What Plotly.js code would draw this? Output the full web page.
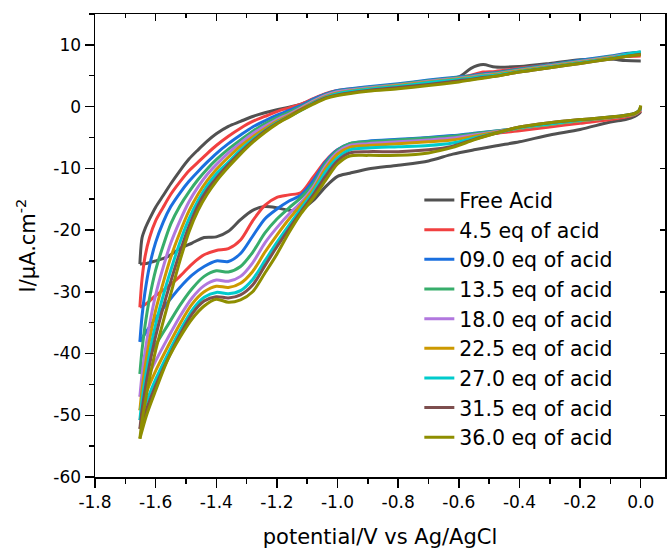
<!DOCTYPE html>
<html>
<head>
<meta charset="utf-8">
<script src="https://cdn.plot.ly/plotly-3.0.1.min.js"></script>
<style>html,body{margin:0;padding:0;background:#fff;}#chart{width:667px;height:549px;}</style>
</head>
<body>
<div id="chart"></div>
<script>
// Potential grids (V vs Ag/AgCl)
const potentialLower = [0.00, -0.005, -0.02, -0.05, -0.10, -0.20, -0.30, -0.40, -0.47, -0.55, -0.62, -0.70, -0.80, -0.90, -0.96, -1.00, -1.04, -1.08, -1.12, -1.16, -1.20, -1.24, -1.28, -1.32, -1.36, -1.40, -1.44, -1.48, -1.52, -1.56, -1.60, -1.63, -1.652];
const potentialUpper = [-1.652, -1.645, -1.635, -1.62, -1.60, -1.575, -1.55, -1.52, -1.49, -1.46, -1.43, -1.40, -1.36, -1.32, -1.28, -1.24, -1.20, -1.16, -1.12, -1.08, -1.04, -1.00, -0.90, -0.80, -0.70, -0.60, -0.56, -0.52, -0.48, -0.40, -0.30, -0.20, -0.10, -0.05, 0.00];

// Series names
const seriesNames = ["Free Acid", "4.5 eq of acid", "09.0 eq of acid", "13.5 eq of acid", "18.0 eq of acid", "22.5 eq of acid", "27.0 eq of acid", "31.5 eq of acid", "36.0 eq of acid"];

// Cathodic (forward) branch currents, I / uA cm^-2
const freeLower   = [-0.8, -1.1, -1.6, -2.1, -2.5, -3.7, -4.6, -5.7, -6.3, -7.0, -7.7, -8.8, -9.5, -10.1, -10.8, -11.3, -13.0, -15.2, -16.6, -16.8, -16.4, -16.2, -16.8, -18.3, -20.2, -21.1, -21.2, -22.1, -23.0, -24.3, -25.0, -25.4, -25.5];
const eq045Lower  = [-0.6, -0.9, -1.3, -1.7, -2.1, -2.7, -3.3, -3.9, -4.3, -4.5, -4.8, -5.1, -5.4, -5.8, -6.2, -7.0, -8.8, -11.4, -13.9, -14.3, -14.7, -16.0, -18.5, -21.6, -23.0, -23.3, -24.0, -25.5, -27.5, -29.2, -30.6, -31.9, -32.5];
const eq090Lower  = [-0.4, -0.7, -1.2, -1.5, -1.8, -2.3, -2.9, -3.5, -3.9, -4.3, -4.7, -5.0, -5.3, -5.6, -6.0, -7.0, -9.0, -12.0, -14.3, -15.3, -16.6, -18.2, -21.0, -23.8, -25.1, -25.0, -25.9, -27.3, -29.3, -31.7, -34.3, -36.4, -38.1];
const eq135Lower  = [-0.3, -0.7, -1.2, -1.5, -1.8, -2.3, -2.9, -3.5, -3.9, -4.4, -4.8, -5.1, -5.4, -5.7, -6.0, -7.1, -9.3, -12.5, -14.7, -16.4, -18.2, -20.5, -23.6, -25.9, -26.8, -26.6, -27.5, -29.5, -32.2, -35.4, -38.6, -41.3, -43.3];
const eq180Lower  = [-0.2, -0.7, -1.2, -1.5, -1.8, -2.3, -2.9, -3.5, -4.0, -4.6, -5.1, -5.4, -5.7, -6.0, -6.3, -7.4, -9.7, -13.0, -15.5, -17.4, -19.6, -22.1, -25.3, -27.5, -28.3, -28.1, -29.0, -31.0, -34.0, -37.5, -41.2, -44.3, -47.0];
const eq225Lower  = [-0.1, -0.7, -1.2, -1.5, -1.8, -2.3, -2.9, -3.5, -4.1, -4.8, -5.4, -5.7, -6.0, -6.3, -6.6, -7.7, -10.1, -13.4, -15.9, -18.2, -20.8, -23.6, -26.7, -28.6, -29.3, -29.1, -30.0, -32.0, -35.2, -38.9, -42.8, -46.2, -49.2];
const eq270Lower  = [0.0, -0.6, -1.1, -1.4, -1.7, -2.2, -2.8, -3.4, -4.2, -5.1, -5.9, -6.3, -6.5, -6.7, -7.0, -8.3, -10.6, -13.8, -16.5, -19.2, -22.0, -25.0, -28.0, -29.8, -30.3, -30.1, -30.9, -33.0, -36.3, -40.1, -44.2, -47.8, -50.8];
const eq315Lower  = [0.1, -0.6, -1.1, -1.4, -1.7, -2.1, -2.6, -3.3, -4.2, -5.3, -6.4, -7.0, -7.3, -7.3, -7.5, -8.8, -11.3, -14.3, -17.0, -19.8, -22.7, -25.8, -28.9, -30.5, -31.0, -30.8, -31.5, -33.6, -37.0, -40.9, -45.2, -49.0, -52.2];
const eq360Lower  = [0.2, -0.6, -1.1, -1.4, -1.7, -2.1, -2.6, -3.3, -4.2, -5.4, -6.6, -7.5, -7.9, -7.9, -8.0, -9.3, -12.0, -14.8, -17.3, -20.4, -23.9, -27.0, -30.0, -31.3, -31.7, -31.2, -32.3, -34.4, -37.4, -41.0, -46.0, -50.0, -53.8];

// Return (reverse) branch currents
const freeUpper   = [-25.5, -21.3, -19.8, -18.2, -16.3, -14.4, -12.5, -10.4, -8.5, -7.0, -5.6, -4.4, -3.2, -2.4, -1.6, -1.0, -0.5, -0.1, 0.4, 1.2, 2.0, 2.5, 3.0, 3.5, 4.1, 4.8, 6.2, 6.8, 6.4, 6.5, 7.0, 7.6, 7.7, 7.45, 7.4];
const eq045Upper  = [-32.5, -28.0, -24.3, -21.2, -18.5, -16.3, -14.2, -12.2, -10.4, -9.0, -7.6, -6.3, -4.8, -3.5, -2.4, -1.6, -0.8, -0.2, 0.4, 1.3, 2.1, 2.6, 3.1, 3.6, 4.1, 4.7, 5.1, 5.6, 5.7, 6.2, 6.8, 7.4, 7.9, 8.1, 8.2];
const eq090Upper  = [-38.1, -34.0, -30.0, -25.8, -22.0, -18.7, -16.2, -14.0, -12.1, -10.5, -9.0, -7.6, -6.0, -4.6, -3.3, -2.3, -1.4, -0.6, 0.2, 1.2, 2.0, 2.6, 3.2, 3.7, 4.3, 4.8, 5.0, 5.3, 5.5, 6.1, 6.8, 7.5, 8.2, 8.6, 8.8];
const eq135Upper  = [-43.3, -39.5, -35.5, -31.0, -26.5, -22.5, -19.0, -16.1, -13.8, -11.8, -10.1, -8.6, -6.9, -5.4, -4.0, -2.8, -1.8, -0.9, 0.0, 1.0, 1.9, 2.5, 3.1, 3.6, 4.2, 4.7, 4.9, 5.2, 5.4, 6.0, 6.7, 7.4, 8.1, 8.5, 8.8];
const eq180Upper  = [-47.0, -43.5, -39.8, -35.3, -30.5, -26.0, -22.1, -18.5, -15.4, -13.0, -11.0, -9.4, -7.5, -5.9, -4.4, -3.2, -2.1, -1.2, -0.2, 0.9, 1.8, 2.4, 3.0, 3.5, 4.1, 4.6, 4.8, 5.1, 5.3, 5.9, 6.6, 7.3, 8.0, 8.4, 8.7];
const eq225Upper  = [-49.2, -45.9, -42.2, -37.8, -33.0, -28.5, -24.4, -20.4, -16.9, -14.2, -12.0, -10.2, -8.2, -6.4, -4.9, -3.6, -2.4, -1.4, -0.4, 0.7, 1.6, 2.2, 2.9, 3.4, 4.0, 4.5, 4.7, 5.0, 5.2, 5.8, 6.5, 7.2, 7.9, 8.3, 8.6];
const eq270Upper  = [-50.8, -47.6, -44.2, -40.0, -35.3, -30.6, -26.5, -22.0, -18.2, -15.2, -12.8, -10.9, -9.0, -7.0, -5.3, -3.9, -2.6, -1.6, -0.6, 0.6, 1.5, 2.1, 2.8, 3.3, 3.9, 4.4, 4.6, 4.9, 5.1, 5.7, 6.4, 7.1, 7.8, 8.4, 8.9];
const eq315Upper  = [-52.2, -49.2, -45.9, -41.8, -37.2, -32.5, -28.3, -23.6, -19.4, -16.0, -13.5, -11.6, -9.4, -7.4, -5.6, -4.0, -2.7, -1.6, -0.5, 0.5, 1.4, 1.9, 2.6, 3.1, 3.6, 4.2, 4.4, 4.7, 4.9, 5.6, 6.3, 7.0, 7.7, 8.1, 8.5];
const eq360Upper  = [-53.8, -51.0, -48.0, -44.0, -39.5, -34.8, -30.3, -25.0, -20.3, -16.8, -14.2, -12.1, -9.8, -7.7, -5.8, -4.2, -2.8, -1.7, -0.6, 0.4, 1.3, 1.8, 2.5, 2.9, 3.4, 4.0, 4.3, 4.6, 4.9, 5.6, 6.3, 7.0, 7.7, 8.1, 8.4];

// Tick labels
const xTickVals = [-1.8, -1.6, -1.4, -1.2, -1.0, -0.8, -0.6, -0.4, -0.2, 0.0];
const xTickLabels = ["-1.8", "-1.6", "-1.4", "-1.2", "-1.0", "-0.8", "-0.6", "-0.4", "-0.2", "0.0"];
const yTickVals = [-60, -50, -40, -30, -20, -10, 0, 10];
const yTickLabels = ["-60", "-50", "-40", "-30", "-20", "-10", "0", "10"];

const colors = ["#515151", "#F14040", "#1A6FDF", "#37AD6B", "#B177DE", "#CC9900", "#00CBCC", "#7D4E4E", "#8E8E00"];
const lowers = [freeLower, eq045Lower, eq090Lower, eq135Lower, eq180Lower, eq225Lower, eq270Lower, eq315Lower, eq360Lower];
const uppers = [freeUpper, eq045Upper, eq090Upper, eq135Upper, eq180Upper, eq225Upper, eq270Upper, eq315Upper, eq360Upper];

const FONT = "DejaVu Sans, Liberation Sans, Arial, sans-serif";
const traces = [];
seriesNames.forEach((name, i) => {
  traces.push({
    x: potentialLower, y: lowers[i], type: "scatter", mode: "lines", name: name,
    legendgroup: "g" + i, showlegend: true,
    line: {color: colors[i], width: 3, shape: "spline", smoothing: 0.8}
  });
  traces.push({
    x: potentialUpper, y: uppers[i], type: "scatter", mode: "lines", name: name,
    legendgroup: "g" + i, showlegend: false,
    line: {color: colors[i], width: 3, shape: "spline", smoothing: 0.8}
  });
});
// Invisible carriers so the mirrored top/right frame axes get drawn
traces.push({x: potentialLower, y: freeLower, xaxis: "x2", yaxis: "y", type: "scatter", mode: "lines",
  opacity: 0, line: {width: 0}, showlegend: false, hoverinfo: "skip"});
traces.push({x: potentialLower, y: freeLower, xaxis: "x", yaxis: "y2", type: "scatter", mode: "lines",
  opacity: 0, line: {width: 0}, showlegend: false, hoverinfo: "skip"});

const xRange = [-1.8, 0.08];
const yRange = [-60, 15];

const layout = {
  width: 667, height: 549,
  margin: {l: 95, r: 2, t: 14, b: 72},
  paper_bgcolor: "#ffffff", plot_bgcolor: "#ffffff",
  font: {family: FONT, color: "#000"},
  showlegend: true,
  legend: {
    x: 0.569, y: 0.641, xanchor: "left", yanchor: "top",
    bgcolor: "rgba(0,0,0,0)", borderwidth: 0,
    font: {family: FONT, size: 20.5, color: "#000"},
    itemwidth: 30, tracegroupgap: 0
  },
  xaxis: {
    range: xRange, tickmode: "array", tickvals: xTickVals, ticktext: xTickLabels,
    ticks: "outside", ticklen: 9, tickwidth: 1.5, tickcolor: "#000",
    minor: {ticks: "outside", ticklen: 5, tickwidth: 1.5, tickcolor: "#000", dtick: 0.1, tick0: -1.8, showgrid: false},
    showline: true, linewidth: 1.5, linecolor: "#000",
    showgrid: false, zeroline: false,
    tickfont: {family: FONT, size: 17, color: "#000"},
    title: {text: "potential/V vs Ag/AgCl", font: {family: FONT, size: 21, color: "#000"}, standoff: 18}
  },
  yaxis: {
    range: yRange, tickmode: "array", tickvals: yTickVals, ticktext: yTickLabels,
    ticks: "outside", ticklen: 9, tickwidth: 1.5, tickcolor: "#000",
    minor: {ticks: "outside", ticklen: 5, tickwidth: 1.5, tickcolor: "#000", dtick: 5, tick0: -60, showgrid: false},
    showline: true, linewidth: 1.5, linecolor: "#000",
    showgrid: false, zeroline: false,
    tickfont: {family: FONT, size: 17, color: "#000"},
    title: {text: "I/μA.cm<sup>-2</sup>", font: {family: FONT, size: 21, color: "#000"}, standoff: 12}
  },
  xaxis2: {
    overlaying: "x", side: "top", anchor: "y", range: xRange,
    tickmode: "array", tickvals: xTickVals, showticklabels: false,
    ticks: "inside", ticklen: 7, tickwidth: 1.5, tickcolor: "#000",
    minor: {ticks: "inside", ticklen: 4, tickwidth: 1.5, tickcolor: "#000", dtick: 0.1, tick0: -1.8, showgrid: false},
    showline: true, linewidth: 1.5, linecolor: "#000", showgrid: false, zeroline: false
  },
  yaxis2: {
    overlaying: "y", side: "right", anchor: "x", range: yRange,
    tickmode: "array", tickvals: yTickVals, showticklabels: false,
    ticks: "inside", ticklen: 5, tickwidth: 1.5, tickcolor: "#000",
    showline: true, linewidth: 1.5, linecolor: "#000", showgrid: false, zeroline: false
  }
};

Plotly.newPlot("chart", traces, layout, {displayModeBar: false, staticPlot: true});
</script>
</body>
</html>
